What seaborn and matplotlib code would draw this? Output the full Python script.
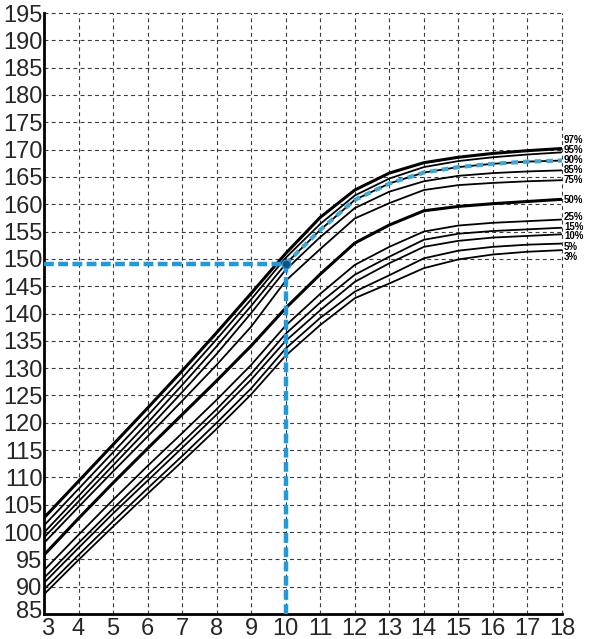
import matplotlib
matplotlib.use("Agg")
import matplotlib.pyplot as plt
import matplotlib.transforms as mtransforms
import seaborn as sns
import pandas as pd

# Age in years
ages = list(range(3, 19))

# Height-for-age percentile curves (cm)
p97 = [102.6, 109.3, 116.0, 122.7, 129.5, 136.5, 143.7, 151.0, 157.6, 162.6, 165.7, 167.6, 168.6, 169.3, 169.8, 170.2]
p95 = [101.2, 107.9, 114.6, 121.3, 128.2, 135.3, 142.6, 150.2, 156.4, 161.6, 164.7, 166.8, 167.9, 168.6, 169.1, 169.5]
p90 = [99.9, 106.6, 113.3, 120.0, 126.9, 134.0, 141.4, 149.1, 155.3, 160.8, 163.8, 165.8, 166.8, 167.4, 167.8, 168.0]
p85 = [99.0, 105.6, 112.2, 118.8, 125.6, 132.6, 140.1, 148.0, 154.0, 159.3, 162.3, 164.2, 165.2, 165.7, 166.0, 166.2]
p75 = [98.0, 104.6, 111.1, 117.5, 124.0, 130.6, 137.6, 146.0, 151.8, 157.4, 160.2, 162.6, 163.5, 163.9, 164.2, 164.4]
p50 = [95.8, 102.5, 109.0, 115.3, 121.5, 127.7, 134.1, 141.0, 147.2, 152.9, 156.2, 158.8, 159.6, 160.1, 160.5, 160.9]
p25 = [93.0, 99.5, 105.9, 112.1, 118.1, 124.2, 130.6, 137.8, 143.6, 148.9, 152.2, 155.0, 156.1, 156.6, 156.9, 157.2]
p15 = [91.6, 98.0, 104.3, 110.4, 116.4, 122.5, 129.0, 136.3, 142.0, 147.1, 150.4, 153.5, 154.6, 155.1, 155.4, 155.7]
p10 = [90.7, 97.1, 103.4, 109.4, 115.4, 121.5, 127.9, 135.0, 140.6, 145.8, 149.2, 152.2, 153.3, 153.9, 154.2, 154.5]
p5 = [89.5, 95.8, 102.0, 108.0, 113.9, 120.0, 126.3, 133.6, 139.2, 144.0, 147.0, 150.1, 151.5, 152.2, 152.6, 152.8]
p3 = [88.6, 94.9, 101.0, 107.0, 112.9, 118.9, 125.2, 132.3, 137.9, 142.8, 145.5, 148.3, 149.9, 150.8, 151.3, 151.6]

curve_names = ["97%", "95%", "90%", "85%", "75%", "50%", "25%", "15%", "10%", "5%", "3%"]
curves = [p97, p95, p90, p85, p75, p50, p25, p15, p10, p5, p3]
# label heights at the right edge (cm), spread out so they stay readable
label_heights = [171.7, 169.9, 168.1, 166.3, 164.4, 160.8, 157.7, 155.9, 154.1, 152.1, 150.3]

# A measured child: age 10, height 149 cm, then tracked along the 90th percentile
child_age = 10
child_height = 149.1

x_ticks = list(range(3, 19))
y_ticks = list(range(85, 200, 5))

sns.set_style("white")
plt.rcParams["font.family"] = ["Liberation Sans", "DejaVu Sans"]

fig = plt.figure(figsize=(5.93, 6.39), dpi=100)
ax = fig.add_axes([44 / 593, 25 / 639, (562 - 44) / 593, (614 - 13) / 639])

df = pd.DataFrame({"age": ages * len(curves),
                   "height": [v for c in curves for v in c],
                   "pct": [n for n in curve_names for _ in ages]})

for name in curve_names:
    sub = df[df["pct"] == name]
    lw = 2.2 if name in ("50%", "97%") else 1.3
    sns.lineplot(data=sub, x="age", y="height", ax=ax, color="black",
                 linewidth=lw, zorder=3, legend=False)

# Tracking lines for the measured child
blue = "#1f9ae0"
ax.plot([3, child_age], [child_height, child_height], color=blue, lw=3.2,
        dashes=(2.2, 1.0), zorder=4, solid_capstyle="butt")
ax.plot([child_age, child_age], [85, child_height], color=blue, lw=3.2,
        dashes=(2.2, 1.0), zorder=4)
track = df[(df["pct"] == "90%") & (df["age"] >= child_age)]
sns.lineplot(data=track, x="age", y="height", ax=ax, color="#3aa8d8",
             linewidth=3.0, zorder=5, legend=False)
ax.lines[-1].set_dashes((1.6, 1.2))
ax.scatter([child_age], [child_height], s=40, color="#16507a", zorder=6,
           edgecolor=blue, linewidth=1)

for name, h in zip(curve_names, label_heights):
    ax.text(18.06, h, name, fontsize=7, fontweight="bold", ha="left",
            va="center", color="black", clip_on=False)

ax.set_xlim(3, 18)
ax.set_ylim(85, 195)
ax.set_xticks(x_ticks)
ax.set_yticks(y_ticks)
ax.set_xlabel("")
ax.set_ylabel("")
ax.tick_params(axis="y", length=0, labelsize=17, pad=1)
ax.tick_params(axis="x", length=0, labelsize=17, pad=3)

# keep the corner labels "85" and "3" apart
fig.canvas.draw()
for lab in ax.get_yticklabels():
    if lab.get_text() == "85":
        lab.set_transform(lab.get_transform() +
                          mtransforms.ScaledTranslation(0, 0.04, fig.dpi_scale_trans))
for lab in ax.get_xticklabels():
    if lab.get_text() == "3":
        lab.set_transform(lab.get_transform() +
                          mtransforms.ScaledTranslation(0.04, 0, fig.dpi_scale_trans))

ax.grid(True, color="#3a3a3a", linewidth=0.8, linestyle=(0, (3.5, 3)))
for gl in ax.get_xgridlines() + ax.get_ygridlines():
    gl.set_clip_on(False)
ax.set_axisbelow(True)
for s in ("top", "right"):
    ax.spines[s].set_visible(False)
for s in ("left", "bottom"):
    ax.spines[s].set_color("black")
    ax.spines[s].set_linewidth(2.0)

fig.savefig("out.png", dpi=100, facecolor="white")
